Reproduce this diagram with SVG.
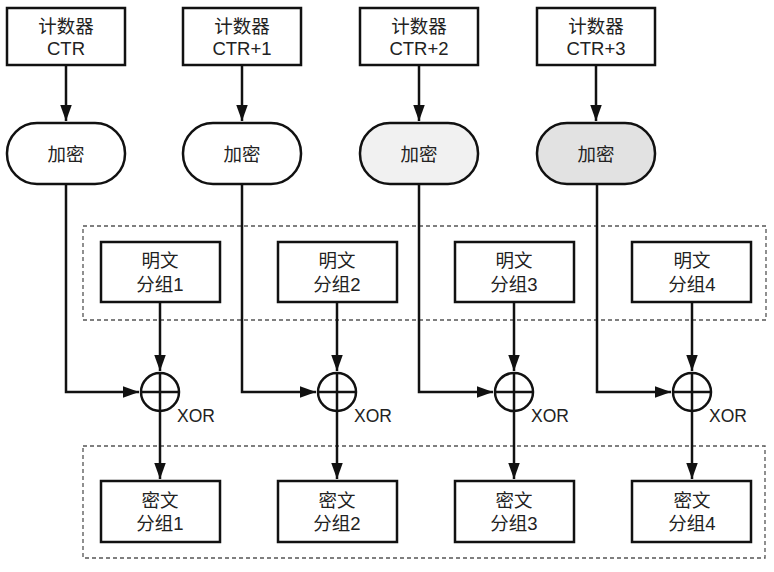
<svg xmlns="http://www.w3.org/2000/svg" width="774" height="572" viewBox="0 0 774 572">
<style>
.box{fill:#fff;stroke:#111;stroke-width:2.5}
.pill{stroke:#111;stroke-width:2.5}
.ln{fill:none;stroke:#111;stroke-width:2.5}
.dash{fill:none;stroke:#555;stroke-width:1.3;stroke-dasharray:4 3}
.t{font-family:"Liberation Sans","Noto Sans CJK SC",sans-serif;font-size:18.5px;fill:#222;text-anchor:middle;dominant-baseline:central}
.x{font-family:"Liberation Sans",sans-serif;font-size:17.5px;fill:#222}
</style>
<defs>
<marker id="ah" viewBox="0 0 10 10" refX="10" refY="5" markerWidth="6.4" markerHeight="4.6" orient="auto" markerUnits="strokeWidth" preserveAspectRatio="none">
<path d="M0,0 L10,5 L0,10 z" fill="#111"/>
</marker>
</defs>
<rect class="dash" x="83" y="226" width="683" height="94"/>
<rect class="dash" x="83" y="446" width="682" height="112"/>
<g id="ctr1"><rect class="box" x="7" y="8" width="118" height="57"/><text class="t" x="66" y="26">计数器</text><text class="t" x="66" y="48">CTR</text></g>
<g id="ctr2"><rect class="box" x="183" y="8" width="118" height="57"/><text class="t" x="242" y="26">计数器</text><text class="t" x="242" y="48">CTR+1</text></g>
<g id="ctr3"><rect class="box" x="360" y="8" width="118" height="57"/><text class="t" x="419" y="26">计数器</text><text class="t" x="419" y="48">CTR+2</text></g>
<g id="ctr4"><rect class="box" x="537" y="8" width="118" height="57"/><text class="t" x="596" y="26">计数器</text><text class="t" x="596" y="48">CTR+3</text></g>
<g id="enc1"><rect class="pill" fill="#fff" x="7" y="123" width="118" height="61" rx="30"/><text class="t" x="66" y="154">加密</text></g>
<g id="enc2"><rect class="pill" fill="#fff" x="183" y="123" width="118" height="61" rx="30"/><text class="t" x="242" y="154">加密</text></g>
<g id="enc3"><rect class="pill" fill="#f1f1f1" x="360" y="123" width="118" height="61" rx="30"/><text class="t" x="419" y="154">加密</text></g>
<g id="enc4"><rect class="pill" fill="#e2e2e2" x="537" y="123" width="118" height="61" rx="30"/><text class="t" x="596" y="154">加密</text></g>
<g id="p1"><rect class="box" x="101" y="242" width="119" height="60"/><text class="t" x="160" y="260">明文</text><text class="t" x="160" y="284">分组1</text></g>
<g id="p2"><rect class="box" x="278" y="242" width="119" height="60"/><text class="t" x="337" y="260">明文</text><text class="t" x="337" y="284">分组2</text></g>
<g id="p3"><rect class="box" x="455" y="242" width="119" height="60"/><text class="t" x="514" y="260">明文</text><text class="t" x="514" y="284">分组3</text></g>
<g id="p4"><rect class="box" x="632" y="242" width="119" height="60"/><text class="t" x="692" y="260">明文</text><text class="t" x="692" y="284">分组4</text></g>
<g id="x1"><circle class="ln" cx="160" cy="392" r="19"/><path class="ln" d="M141,392H179M160,373V411"/><text class="x" x="177" y="422">XOR</text></g>
<g id="x2"><circle class="ln" cx="337" cy="392" r="19"/><path class="ln" d="M318,392H356M337,373V411"/><text class="x" x="354" y="422">XOR</text></g>
<g id="x3"><circle class="ln" cx="514" cy="392" r="19"/><path class="ln" d="M495,392H533M514,373V411"/><text class="x" x="531" y="422">XOR</text></g>
<g id="x4"><circle class="ln" cx="692" cy="392" r="19"/><path class="ln" d="M673,392H711M692,373V411"/><text class="x" x="709" y="422">XOR</text></g>
<g id="c1"><rect class="box" x="101" y="481" width="119" height="61"/><text class="t" x="160" y="500">密文</text><text class="t" x="160" y="523">分组1</text></g>
<g id="c2"><rect class="box" x="278" y="481" width="119" height="61"/><text class="t" x="337" y="500">密文</text><text class="t" x="337" y="523">分组2</text></g>
<g id="c3"><rect class="box" x="455" y="481" width="119" height="61"/><text class="t" x="514" y="500">密文</text><text class="t" x="514" y="523">分组3</text></g>
<g id="c4"><rect class="box" x="632" y="481" width="119" height="61"/><text class="t" x="692" y="500">密文</text><text class="t" x="692" y="523">分组4</text></g>
<g id="connectors">
<path class="ln" d="M66,65V121" marker-end="url(#ah)"/>
<path class="ln" d="M242,65V121" marker-end="url(#ah)"/>
<path class="ln" d="M419,65V121" marker-end="url(#ah)"/>
<path class="ln" d="M596,65V121" marker-end="url(#ah)"/>
<path class="ln" d="M66,184V392H139" marker-end="url(#ah)"/>
<path class="ln" d="M242,184V392H316" marker-end="url(#ah)"/>
<path class="ln" d="M419,184V392H493" marker-end="url(#ah)"/>
<path class="ln" d="M597,184V392H671" marker-end="url(#ah)"/>
<path class="ln" d="M160,302V371" marker-end="url(#ah)"/>
<path class="ln" d="M337,302V371" marker-end="url(#ah)"/>
<path class="ln" d="M514,302V371" marker-end="url(#ah)"/>
<path class="ln" d="M692,302V371" marker-end="url(#ah)"/>
<path class="ln" d="M160,411V479" marker-end="url(#ah)"/>
<path class="ln" d="M337,411V479" marker-end="url(#ah)"/>
<path class="ln" d="M514,411V479" marker-end="url(#ah)"/>
<path class="ln" d="M692,411V479" marker-end="url(#ah)"/>
</g>
</svg>
